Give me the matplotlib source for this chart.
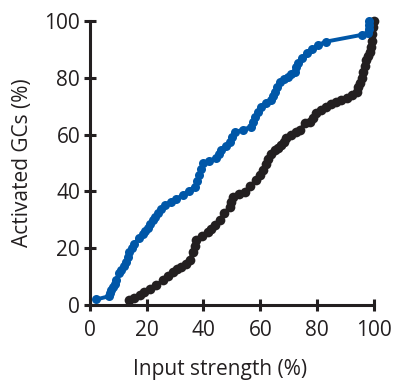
import matplotlib
matplotlib.use("Agg")
import matplotlib.pyplot as plt

# blue curve
blue_x = [2.2, 6.9, 7.2, 7.5, 8.1, 8.7, 9.2, 10.2, 11.0, 11.9, 12.8, 13.4, 13.9, 14.8,
          15.7, 17.2, 18.6, 19.5, 20.4, 21.3, 22.2, 23.1, 23.9, 24.9, 26.6, 28.4,
          30.5, 32.7, 34.8, 36.9, 37.8, 38.6, 39.2, 39.8, 42.0, 44.5, 45.4, 46.3,
          47.8, 49.2, 50.1, 51.0, 54.0, 56.9, 57.5, 58.0, 59.2, 60.4, 62.1, 63.9,
          64.5, 65.1, 66.0, 66.8, 68.3, 69.8, 71.0, 72.1, 72.7, 73.3, 74.8, 76.3,
          78.3, 80.4, 83.0, 95.7, 98.0, 98.2, 98.3, 98.4]
blue_y = [2.0, 3.2, 4.2, 5.3, 6.5, 7.6, 8.8, 11.2, 12.3, 13.7, 15.2, 17.0, 18.8, 20.2,
          21.7, 23.5, 25.2, 26.1, 27.0, 28.4, 29.9, 31.1, 32.3, 34.0, 35.2, 36.4,
          37.5, 38.7, 40.2, 41.7, 43.7, 45.8, 47.8, 49.9, 50.8, 51.8, 53.2, 54.6,
          56.0, 57.5, 59.1, 60.8, 61.8, 62.8, 64.5, 66.3, 68.0, 69.8, 71.0, 72.2,
          73.6, 75.1, 76.9, 78.6, 79.5, 80.4, 81.3, 82.2, 83.7, 85.1, 86.9, 88.6,
          90.0, 91.5, 92.7, 95.1, 95.6, 97.0, 98.5, 100.0]

# black curve
black_x = [13.9, 15.7, 17.5, 19.2, 21.3, 23.4, 25.7, 27.5, 29.2, 30.7, 32.2, 33.7,
           35.1, 36.3, 36.9, 37.5, 39.5, 41.6, 42.8, 44.2, 45.7, 47.4, 49.2, 49.8,
           50.4, 52.5, 54.5, 56.5, 58.6, 59.8, 61.0, 61.9, 62.7, 63.9, 65.1, 66.2,
           67.4, 68.3, 69.2, 71.0, 72.5, 73.9, 75.7, 77.4, 78.6, 79.8, 81.5, 83.3,
           85.0, 86.8, 88.6, 90.4, 92.2, 93.9, 94.5, 95.1, 95.7, 96.2, 96.8, 97.4,
           98.0, 98.6, 99.0, 99.2, 99.5, 99.8, 100.0]
black_y = [1.8, 2.6, 3.5, 4.7, 5.8, 7.0, 8.8, 10.2, 11.7, 12.6, 13.5, 14.6,
           15.8, 18.8, 20.8, 22.9, 24.3, 25.8, 26.8, 28.3, 29.9, 32.3, 34.6, 36.3,
           38.1, 39.0, 39.9, 42.0, 44.0, 45.8, 47.5, 49.5, 51.6, 53.1, 54.6, 55.4,
           56.3, 57.5, 58.7, 59.9, 60.8, 61.6, 64.0, 64.5, 66.0, 67.5, 68.6, 69.8,
           70.7, 71.6, 72.2, 72.8, 74.0, 75.1, 76.6, 78.1, 80.1, 82.2, 84.2, 86.3,
           87.6, 89.0, 91.0, 93.0, 95.5, 98.0, 100.0]

xticks = [0, 20, 40, 60, 80, 100]
yticks = [0, 20, 40, 60, 80, 100]

plt.rcParams["font.family"] = ["Open Sans", "DejaVu Sans"]

fig = plt.figure(figsize=(3.96, 3.81), dpi=100)
ax = fig.add_axes([0.227, 0.199, 0.717, 0.746])

ax.plot(blue_x, blue_y, "-o", color="#0057a8", lw=2.8, ms=6.5, mew=0, clip_on=False, zorder=3)
ax.plot(black_x, black_y, "-o", color="#231f20", lw=2.8, ms=7, mew=0, clip_on=False, zorder=2)

ax.set_xlim(0, 100)
ax.set_ylim(0, 100)
ax.set_xticks(xticks)
ax.set_yticks(yticks)
for s in ["top", "right"]:
    ax.spines[s].set_visible(False)
for s in ["left", "bottom"]:
    ax.spines[s].set_linewidth(2.2)
    ax.spines[s].set_color("#231f20")
ax.tick_params(direction="inout", length=8, width=2.2, color="#231f20",
               labelsize=15, labelcolor="#231f20", pad=3)
ax.tick_params(axis="x", pad=7)
ax.set_xlabel("Input strength (%)", fontsize=15, color="#231f20")
ax.set_ylabel("Activated GCs (%)", fontsize=15, color="#231f20", labelpad=8)
ax.xaxis.set_label_coords(0.458, -0.19)

fig.savefig("out.png", dpi=100)
